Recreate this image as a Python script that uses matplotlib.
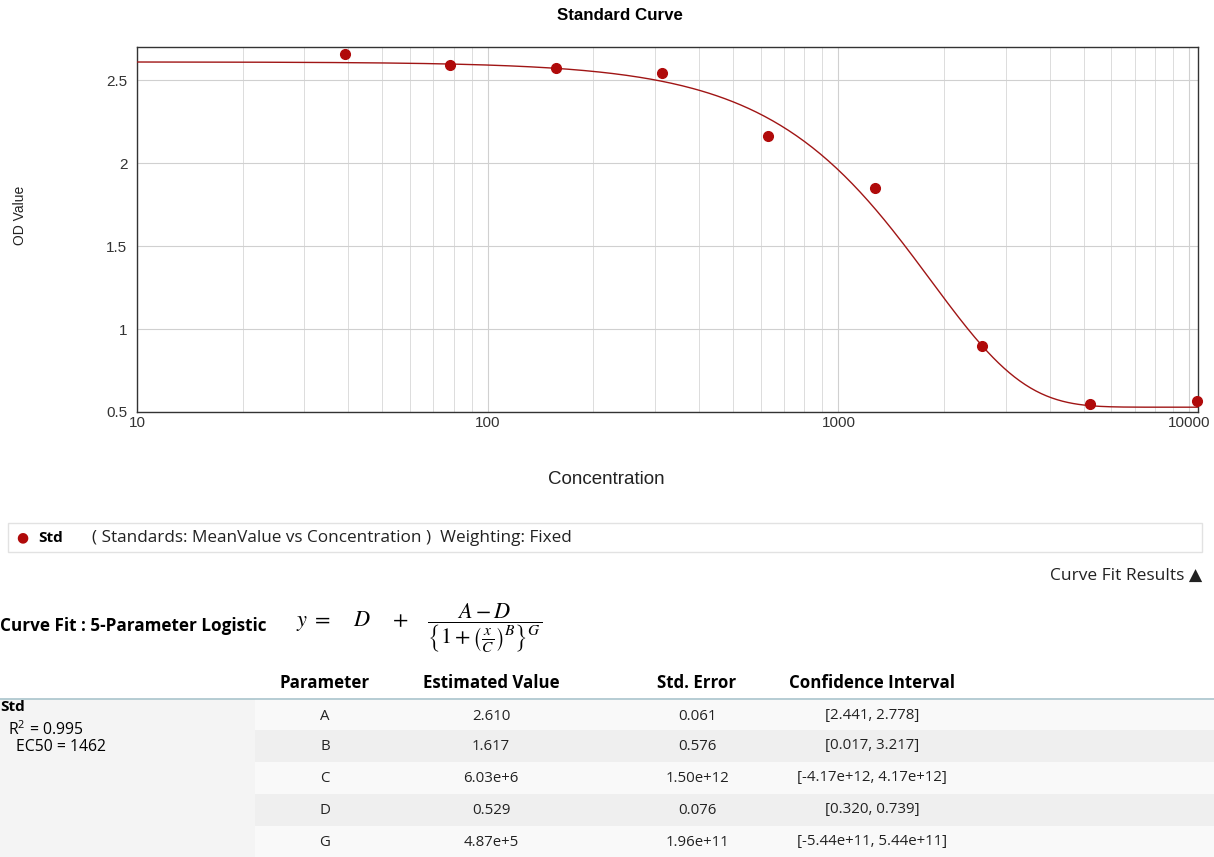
import numpy as np
import matplotlib.pyplot as plt
from matplotlib.patches import Rectangle

# standards
conc = [39.1, 78.1, 157, 315, 630, 1270, 2560, 5200, 10500]
od = [2.657, 2.590, 2.572, 2.542, 2.163, 1.849, 0.898, 0.548, 0.566]

# 5PL fit parameters (from the results table)
A, B, C, D, G = 2.610, 1.617, 6.03e6, 0.529, 4.87e5

param_names = ['A', 'B', 'C', 'D', 'G']
est_values = ['2.610', '1.617', '6.03e+6', '0.529', '4.87e+5']
std_errors = ['0.061', '0.576', '1.50e+12', '0.076', '1.96e+11']
conf_ints = ['[2.441, 2.778]', '[0.017, 3.217]', '[-4.17e+12, 4.17e+12]',
             '[0.320, 0.739]', '[-5.44e+11, 5.44e+11]']
r2 = '0.995'
ec50 = '1462'

W, H = 1214, 857
red = '#b00a0a'
sans = 'Liberation Sans'
ui = ['Open Sans', 'DejaVu Sans']

fig = plt.figure(figsize=(W / 100, H / 100), dpi=100)
ax = fig.add_axes([137 / W, 1 - 412 / H, (1198 - 137) / W, (412 - 47) / H])


def px(x, y):
    return x / W, 1 - y / H


xs = np.logspace(1, np.log10(10600), 400)
fit = D + (A - D) / (1 + (xs / C) ** B) ** G
ax.plot(xs, fit, color='#a01515', lw=1.0, zorder=3)
ax.plot(conc, od, 'o', color=red, ms=7, zorder=4, clip_on=False)

ax.set_xscale('log')
ax.set_xlim(10, 10600)
ax.set_ylim(0.5, 2.7)
ax.set_yticks([0.5, 1, 1.5, 2, 2.5])
ax.set_yticklabels(['0.5', '1', '1.5', '2', '2.5'], fontfamily=sans, fontsize=11, color='#333333')
ax.set_xticks([10, 100, 1000, 10000])
ax.set_xticklabels(['10', '100', '1000', '10000'], fontfamily=sans, fontsize=11, color='#333333')
ax.tick_params(which='both', length=0)
ax.tick_params(axis='x', pad=3)
ax.tick_params(axis='y', pad=7)
ax.grid(True, which='major', color='#d0d0d0', lw=0.8)
ax.grid(True, which='minor', axis='x', color='#dcdcdc', lw=0.7)
for s in ax.spines.values():
    s.set_color('#333333')
    s.set_linewidth(1.0)

fig.text(*px(620, 16), 'Standard Curve', ha='center', va='center',
         fontfamily=sans, fontweight='bold', fontsize=12.2)
fig.text(*px(20, 215), 'OD Value', ha='center', va='center', rotation=90,
         fontfamily=sans, fontsize=10, color='#222222')
fig.text(*px(606, 480), 'Concentration', ha='center', va='center',
         fontfamily=sans, fontsize=13.5, color='#222222')

# legend box
fig.patches.append(Rectangle(px(8, 552), (1202 - 8) / W, 29 / H, transform=fig.transFigure,
                             facecolor='white', edgecolor='#e2e2e2', lw=1))
fig.text(*px(22, 538), '\u25cf', ha='center', va='center', color=red, fontsize=10, family=ui)
fig.text(*px(38, 538), 'Std', ha='left', va='center', fontweight='bold', fontsize=11, family=ui)
fig.text(*px(92, 538), '( Standards: MeanValue vs Concentration )  Weighting: Fixed',
         ha='left', va='center', fontsize=12.3, family=ui, color='#222222')

fig.text(*px(1202, 576), 'Curve Fit Results \u25b2', ha='right', va='center',
         fontsize=12.5, family=ui, color='#222222')

# curve fit formula
fig.text(*px(0, 626), 'Curve Fit : 5-Parameter Logistic', ha='left', va='center',
         fontweight='bold', fontsize=12.3, family=ui)
plt.rcParams['mathtext.fontset'] = 'stix'
fig.text(*px(296, 628),
         r'$y \;=\; \quad D \quad\; + \quad \dfrac{A - D}{\left\{1 + \left(\frac{x}{C}\right)^B\right\}^G}$',
         ha='left', va='center', fontsize=16)

# results table
row_y = [716, 746, 778, 810, 842]
row_h = 32
fig.patches.append(Rectangle(px(0, 857), 255 / W, (857 - 699) / H, transform=fig.transFigure,
                             facecolor='#f4f4f4', edgecolor='none'))
for i, y in enumerate(row_y):
    fc = '#efefef' if i % 2 == 1 else '#f9f9f9'
    fig.patches.append(Rectangle(px(255, y + row_h / 2), (W - 255) / W, row_h / H,
                                 transform=fig.transFigure, facecolor=fc, edgecolor='none'))
fig.add_artist(plt.Line2D([0, 1], [1 - 699 / H] * 2, transform=fig.transFigure,
                          color='#a9c4cc', lw=1.2))

cols_x = [325, 491, 697, 872]
headers = ['Parameter', 'Estimated Value', 'Std. Error', 'Confidence Interval']
for cx, h in zip(cols_x, headers):
    fig.text(*px(cx, 683), h, ha='center', va='center', fontweight='bold', fontsize=12.2, family=ui)
for i, y in enumerate(row_y):
    vals = [param_names[i], est_values[i], std_errors[i], conf_ints[i]]
    for cx, v in zip(cols_x, vals):
        fig.text(*px(cx, y), v, ha='center', va='center', fontsize=10.8, family=ui, color='#222222')

fig.text(*px(0, 707), 'Std', ha='left', va='center', fontweight='bold', fontsize=11, family=ui)
fig.text(*px(8, 729), r'R$^{\mathregular{2}}$ = ' + r2, ha='left', va='center', fontsize=11.3, family=ui)
fig.text(*px(16, 747), 'EC50 = ' + ec50, ha='left', va='center', fontsize=11.3, family=ui)

fig.savefig('out.png', dpi=100)
